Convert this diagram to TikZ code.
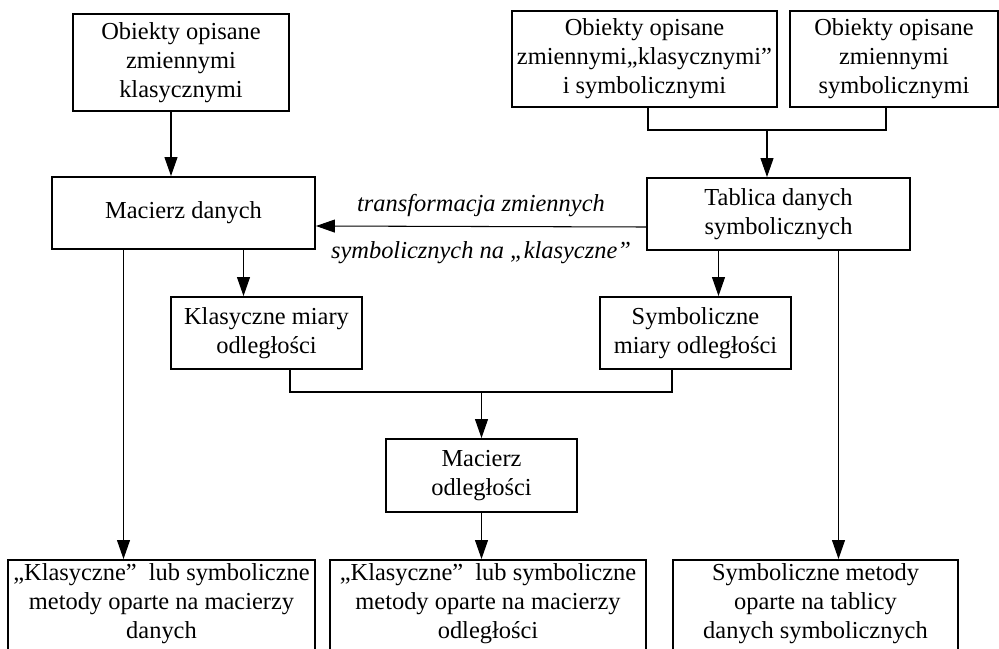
\documentclass[tikz,border=0pt]{standalone}
\usepackage{fontspec}
\setmainfont{Liberation Serif}
\usepackage{tikz}
\usetikzlibrary{arrows.meta,positioning}

\begin{document}
\begin{tikzpicture}[>={Triangle[length=3.8mm,width=2.6mm]},
  font=\fontsize{13.9}{16.5}\selectfont,
  box/.style={draw,line width=1.1pt,align=center,inner sep=1pt,minimum height=1.44cm},
  endbox/.style={draw,line width=1.1pt,align=center,inner sep=2pt,anchor=north,text depth=1.8cm},
  link/.style={line width=0.6pt},
  lab/.style={font=\fontsize{13.9}{16.5}\selectfont\itshape,inner sep=0pt}]
\useasboundingbox (0,0) rectangle (19.98,-12.96);
% objects
\node[box,minimum width=4.32cm,minimum height=1.94cm] (ob_kl) at (3.62,-1.25) {Obiekty opisane\\zmiennymi\\klasycznymi};
\node[box,minimum width=5.30cm,minimum height=1.92cm] (ob_mix) at (12.89,-1.18) {Obiekty opisane\\zmiennymi„klasycznymi”\\i symbolicznymi};
\node[box,minimum width=4.16cm,minimum height=1.92cm] (ob_sym) at (17.88,-1.18) {Obiekty opisane\\zmiennymi\\symbolicznymi};
% data
\node[box,minimum width=5.26cm] (mac_dan) at (3.67,-4.26) {Macierz danych};
\node[box,minimum width=5.26cm] (tab_sym) at (15.57,-4.28) {Tablica danych\\symbolicznych};
% distances
\node[box,minimum width=3.82cm] (kl_miary) at (5.33,-6.66) {Klasyczne miary\\odległości};
\node[box,minimum width=3.82cm] (sym_miary) at (13.91,-6.66) {Symboliczne\\miary odległości};
\node[box,minimum width=3.82cm,minimum height=1.46cm] (mac_odl) at (9.63,-9.51) {Macierz\\odległości};
% methods
\node[endbox,minimum width=6.14cm] (met_dan) at (3.23,-11.18) {„Klasyczne”\ \ lub symboliczne\\metody oparte na macierzy\\danych};
\node[endbox,minimum width=6.32cm] (met_odl) at (9.76,-11.18) {„Klasyczne”\ \ lub symboliczne\\metody oparte na macierzy\\odległości};
\node[endbox,minimum width=5.70cm] (met_tab) at (16.31,-11.18) {Symboliczne metody\\oparte na tablicy\\danych symbolicznych};
\coordinate (j_top) at (15.34,-2.6);
\coordinate (j_bot) at (9.63,-7.84);
% connectors
\draw[link,->] ([xshift=-0.2cm]ob_kl.south) -- ([xshift=-0.2cm]ob_kl.south |- mac_dan.north);
\draw[link] ([xshift=0.07cm]ob_mix.south) |- (j_top) -| ([xshift=-0.16cm]ob_sym.south);
\draw[link,->] (j_top) -- (j_top |- tab_sym.north);
\draw[link,->] ([yshift=-0.26cm]tab_sym.west) -- ([yshift=-0.26cm]mac_dan.east)
  node[lab,midway,above=0.18cm] (tr_a) {transformacja zmiennych}
  node[lab,midway,below=0.3cm] (tr_b) {symbolicznych na „klasyczne”};
\draw[link,->] ([xshift=-1.2cm]mac_dan.south) -- ([xshift=-1.2cm]mac_dan.south |- met_dan.north);
\draw[link,->] ([xshift=1.2cm]mac_dan.south) -- ([xshift=1.2cm]mac_dan.south |- kl_miary.north);
\draw[link,->] ([xshift=-1.2cm]tab_sym.south) -- ([xshift=-1.2cm]tab_sym.south |- sym_miary.north);
\draw[link,->] ([xshift=1.2cm]tab_sym.south) -- ([xshift=1.2cm]tab_sym.south |- met_tab.north);
\draw[link] ([xshift=0.47cm]kl_miary.south) |- (j_bot) -| ([xshift=-0.47cm]sym_miary.south);
\draw[link,->] (j_bot) -- (mac_odl.north);
\draw[link,->] (mac_odl.south) -- (mac_odl.south |- met_odl.north);
\end{tikzpicture}
\end{document}
